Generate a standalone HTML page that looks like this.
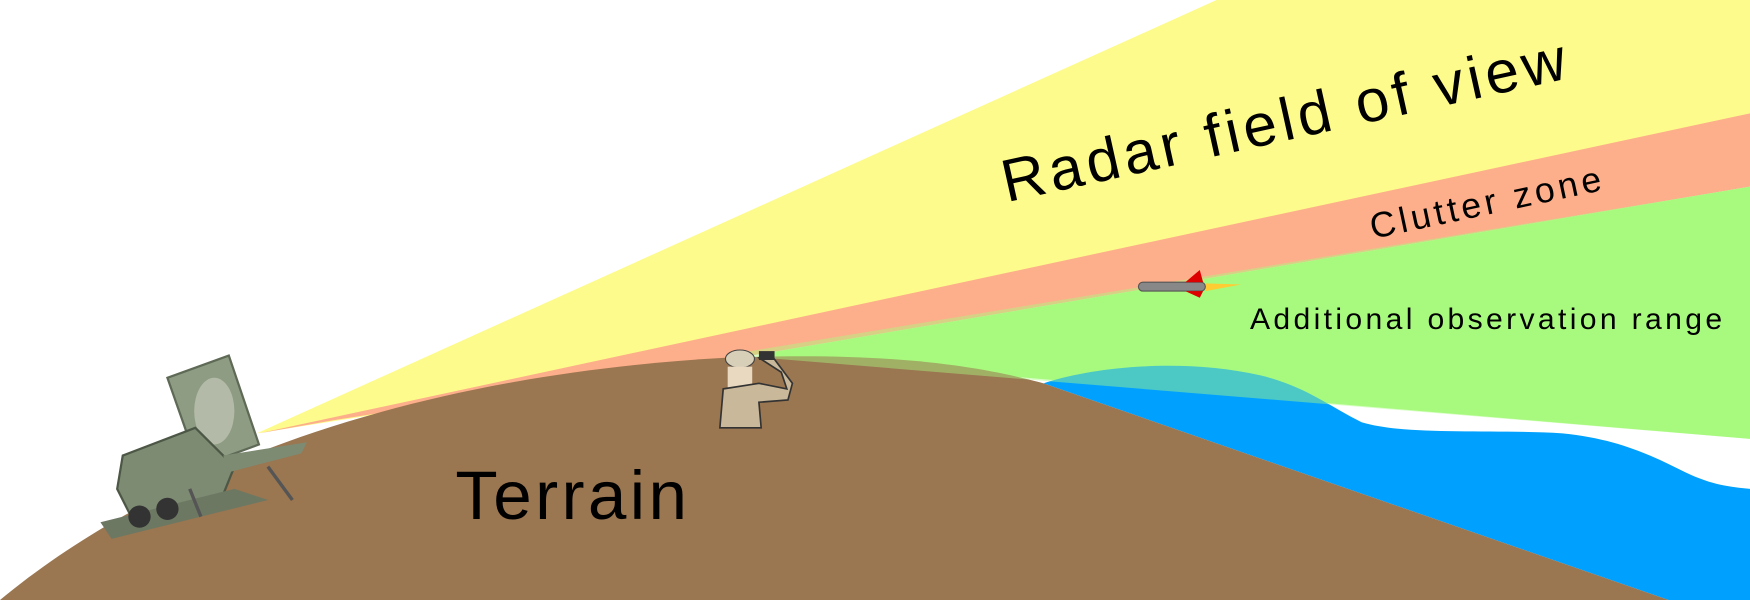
<!DOCTYPE html>
<html><head><meta charset="utf-8"><style>
html,body{margin:0;padding:0;background:#fff;}
svg{display:block;}
text{font-family:"Liberation Sans",sans-serif;fill:#000;}
</style></head><body>
<svg width="1750" height="600" viewBox="0 0 1568 540" preserveAspectRatio="none">
<rect width="1568" height="540" fill="#fff"/>
<polygon points="230,390 1090,0 1568,0 1568,102 640,325" fill="#fdfb8b"/>
<polygon points="232,390 1568,102 1568,168 685,318 300,378" fill="#fdae8a"/>
<polygon points="685,318 1568,168 1568,395 685,320" fill="#a8fa7f"/>
<path d="M935,345 C980,330 1060,322 1130,338 C1170,348 1190,365 1220,380 C1260,392 1330,386 1400,390 C1450,395 1480,410 1510,425 C1535,437 1550,438 1568,440 L1568,540 L1495,540 Z" fill="#00a0ff"/>
<path d="M0,540 C120,440 330,340 650,322 C800,316 880,330 935,345 L1495,540 Z" fill="#9a7651"/>
<polygon points="660,318 1568,168 1568,395 660,320" fill="#a8fa7f" opacity="0.45"/>
<g>
<polygon points="150,340 205,320 232,400 178,420" fill="#8f9c84" stroke="#5e6a56" stroke-width="2"/>
<ellipse cx="192" cy="370" rx="18" ry="30" fill="#b3bba8"/>
<polygon points="110,410 175,385 210,420 200,445 120,470 105,440" fill="#7e8b73" stroke="#4d5746" stroke-width="2"/>
<polygon points="200,410 275,398 270,408 205,425" fill="#7e8b73"/>
<polygon points="90,470 210,440 240,450 100,485" fill="#6d7863"/>
<circle cx="125" cy="465" r="10" fill="#333"/><circle cx="150" cy="458" r="10" fill="#333"/>
<line x1="240" y1="420" x2="262" y2="450" stroke="#555" stroke-width="3"/>
<line x1="170" y1="440" x2="180" y2="465" stroke="#555" stroke-width="3"/>
</g>
<g>
<ellipse cx="663" cy="323" rx="13" ry="8" fill="#d8cfb8" stroke="#444"/>
<rect x="652" y="330" width="22" height="22" fill="#e8d9c0"/>
<path d="M645,385 L648,350 L680,345 L705,350 L700,335 L680,322 L690,318 L710,345 L706,360 L680,362 L682,385 Z" fill="#c9b89a" stroke="#333" stroke-width="1.5"/>
<rect x="680" y="316" width="14" height="8" fill="#333"/>
</g>
<g>
<polygon points="1080,255 1112,256 1080,262" fill="#ffcc33"/>
<rect x="1020" y="254" width="60" height="8" rx="4" fill="#888" stroke="#555"/>
<polygon points="1062,254 1075,243 1078,254" fill="#d00"/>
<polygon points="1062,262 1075,268 1078,262" fill="#d00"/>
</g>
<text x="0" y="0" font-size="54" letter-spacing="4" transform="translate(902,182) rotate(-12.5)">Radar field of view</text>
<text x="0" y="0" font-size="32" letter-spacing="3.5" transform="translate(1230,215) rotate(-12)">Clutter zone</text>
<text x="1120" y="296" font-size="27" letter-spacing="3">Additional observation range</text>
<text x="408" y="467" font-size="62" letter-spacing="3">Terrain</text>
</svg>
</body></html>
